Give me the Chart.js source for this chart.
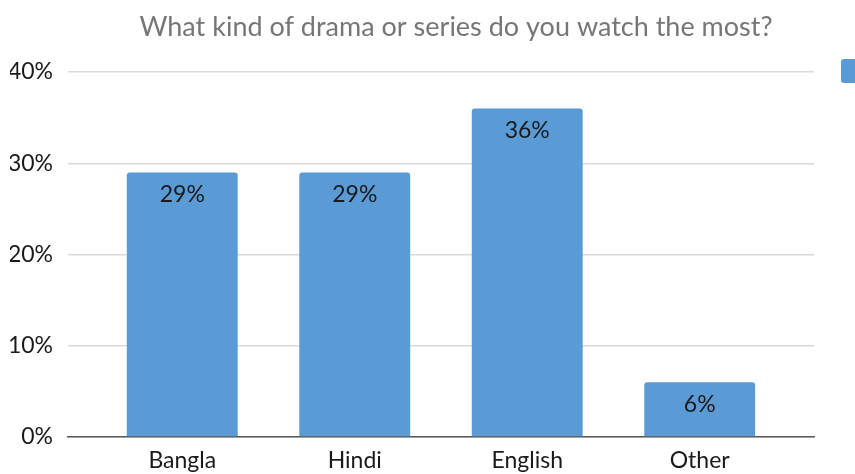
<!DOCTYPE html>
<html>
<head>
<meta charset="utf-8">
<script src="https://cdn.jsdelivr.net/npm/chart.js@4"></script>
<style>
  html, body { margin: 0; padding: 0; background: #fff; overflow: hidden; }
</style>
</head>
<body>
<canvas id="dramaChart" width="855" height="474"></canvas>
<script>
// 설문 결과 데이터
var categories = ["Bangla", "Hindi", "English", "Other"];
var shares = [29, 29, 36, 6];
var yTicks = [0, 10, 20, 30, 40];
var chartTitle = "What kind of drama or series do you watch the most?";

// 막대 위 값 표시 + 제목 + 범례 박스
var drawExtras = {
    id: "drawExtras",
    afterDatasetsDraw: function(chart) {
        var ctx = chart.ctx;
        var meta = chart.getDatasetMeta(0);
        ctx.save();
        ctx.font = "23px Lato";
        ctx.fillStyle = "#1a1a1a";
        ctx.textAlign = "center";
        ctx.textBaseline = "middle";
        meta.data.forEach(function(bar, i) {
            ctx.fillText(shares[i] + "%", bar.x, bar.y + 22);
        });
        ctx.restore();
    },
    afterDraw: function(chart) {
        var ctx = chart.ctx;
        ctx.save();
        ctx.font = "27px Lato";
        ctx.fillStyle = "#767676";
        ctx.textAlign = "center";
        ctx.textBaseline = "middle";
        ctx.fillText(chartTitle, 456, 27);
        // 범례 (오른쪽 끝, 잘린 상태)
        ctx.fillStyle = "#5b9bd5";
        ctx.beginPath();
        ctx.roundRect(841, 59, 30, 24, 3);
        ctx.fill();
        ctx.restore();
    }
};

// 카테고리 순번을 x 값으로 사용
var barData = shares.map(function(v, i) { return { x: i, y: v }; });

var ctx = document.getElementById("dramaChart").getContext("2d");
new Chart(ctx, {
    type: "bar",
    data: {
        datasets: [{
            data: barData,
            backgroundColor: "#5b9bd5",
            borderRadius: { topLeft: 3, topRight: 3 },
            borderSkipped: "bottom",
            categoryPercentage: 0.643,
            barPercentage: 1.0
        }]
    },
    options: {
        responsive: false,
        animation: false,
        layout: { padding: { left: 10, right: 41, top: 72, bottom: 0 } },
        plugins: {
            legend: { display: false },
            title: { display: false },
            tooltip: { enabled: false }
        },
        scales: {
            x: {
                type: "linear",
                offset: false,
                min: -0.6625,
                max: 3.6625,
                afterBuildTicks: function(axis) {
                    axis.ticks = categories.map(function(c, i) { return { value: i }; });
                },
                afterFit: function(axis) { axis.height = 37; },
                grid: { display: false, drawTicks: false },
                border: { color: "#595959", width: 1.5 },
                ticks: {
                    color: "#1a1a1a",
                    font: { family: "Lato", size: 23, lineHeight: 1 },
                    padding: 12,
                    autoSkip: false,
                    maxRotation: 0,
                    callback: function(v) { return categories[v]; }
                }
            },
            y: {
                min: 0,
                max: 40,
                afterBuildTicks: function(axis) {
                    axis.ticks = yTicks.map(function(v) { return { value: v }; });
                },
                afterFit: function(axis) { axis.width = 58; },
                grid: { color: "#d9d9d9", lineWidth: 1.5, drawTicks: false },
                border: { display: false },
                ticks: {
                    color: "#1a1a1a",
                    font: { family: "Lato", size: 23 },
                    padding: 15,
                    callback: function(v) { return v + "%"; }
                }
            }
        }
    },
    plugins: [drawExtras]
});
</script>
</body>
</html>
